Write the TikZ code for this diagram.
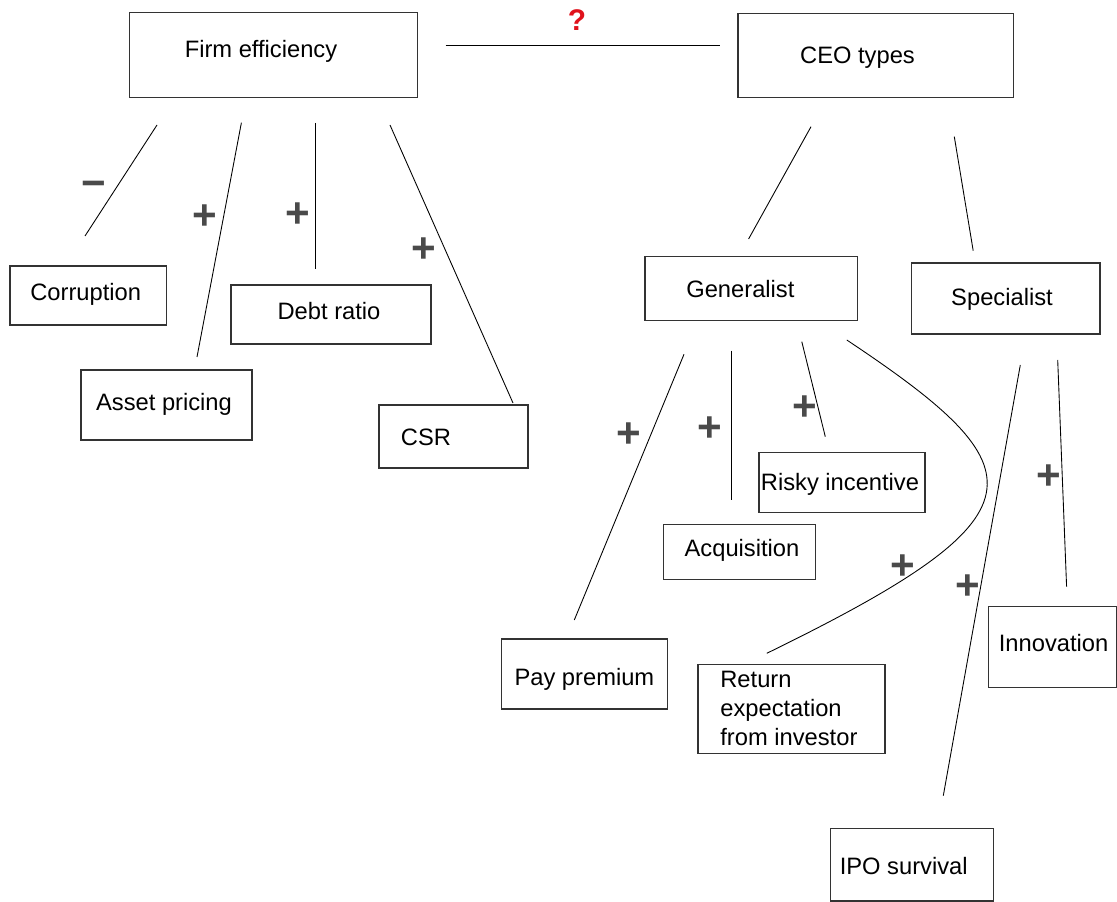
\documentclass[tikz,border=0pt]{standalone}
\usepackage{fontspec}
\setmainfont{Liberation Sans}
\definecolor{boxgray}{HTML}{333333}
\definecolor{signgray}{HTML}{4A4A4A}
\definecolor{qred}{HTML}{E0121C}
\begin{document}
\begin{tikzpicture}[x=0.02cm,y=-0.02cm,
           box/.style={draw=boxgray,line width=0.7pt,inner sep=0pt},
           txt/.style={inner sep=0pt,font=\fontsize{13.5}{16.5}\selectfont},
           sign/.style={inner sep=0pt,text=signgray,font=\fontsize{24}{24}\selectfont\bfseries},
           link/.style={line width=0.5pt}]
           \useasboundingbox (0,0) rectangle (1117,902);

           \node[box,minimum width=5.76cm,minimum height=1.71cm] (firm) at (273.5,55) {};
           \node[box,minimum width=5.51cm,minimum height=1.69cm] (ceo) at (875.8,55.5) {};
           \node[box,minimum width=3.13cm,minimum height=1.18cm] (corruption) at (88.2,295.5) {};
           \node[box,minimum width=4.00cm,minimum height=1.18cm] (debt) at (331,314.5) {};
           \node[box,minimum width=3.42cm,minimum height=1.40cm] (asset) at (166.5,405) {};
           \node[box,minimum width=2.98cm,minimum height=1.26cm] (csr) at (453.5,436.5) {};
           \node[box,minimum width=4.25cm,minimum height=1.27cm] (generalist) at (751.3,288.4) {};
           \node[box,minimum width=3.77cm,minimum height=1.42cm] (specialist) at (1005.7,298.5) {};
           \node[box,minimum width=3.32cm,minimum height=1.20cm] (risky) at (841.9,482.3) {};
           \node[box,minimum width=3.05cm,minimum height=1.10cm] (acquisition) at (739.4,551.8) {};
           \node[box,minimum width=3.32cm,minimum height=1.40cm] (pay) at (584.4,674) {};
           \node[box,minimum width=3.74cm,minimum height=1.78cm] (return) at (791.4,708.8) {};
           \node[box,minimum width=2.56cm,minimum height=1.61cm] (innovation) at (1052.2,647) {};
           \node[box,minimum width=3.27cm,minimum height=1.45cm] (ipo) at (911.9,864.7) {};

           \node[txt] (firm text) at (261,51.7) {Firm efficiency};
           \node[txt] (ceo text) at (857.5,57.3) {CEO types};
           \node[txt] (corruption text) at (85.7,294) {Corruption};
           \node[txt] (debt text) at (329,311) {Debt ratio};
           \node[txt] (asset text) at (164,404) {Asset pricing};
           \node[txt] (csr text) at (426,437) {CSR};
           \node[txt] (generalist text) at (740.4,289.3) {Generalist};
           \node[txt] (specialist text) at (1002,299.3) {Specialist};
           \node[txt] (risky text) at (840,484) {Risky incentive};
           \node[txt] (acquisition text) at (742,550) {Acquisition};
           \node[txt] (pay text) at (584.4,679) {Pay premium};
           \node[txt,anchor=west,align=left] (return text) at (720,708) {Return\\expectation\\from investor};
           \node[txt] (innovation text) at (1053.6,643.3) {Innovation};
           \node[txt] (ipo text) at (903.7,866) {IPO survival};

           \coordinate (q1) at (445.7,45.7);
           \coordinate (q2) at (719.6,45.7);
           \coordinate (c1) at (157,125);
           \coordinate (c2) at (85,236);
           \coordinate (a1) at (241.4,122.7);
           \coordinate (a2) at (197,357);
           \coordinate (d1) at (315.7,123);
           \coordinate (d2) at (315.7,268.7);
           \coordinate (s1) at (390,125);
           \coordinate (s2) at (513,403);
           \coordinate (g1) at (811,126.7);
           \coordinate (g2) at (748.6,239);
           \coordinate (sp1) at (954.3,136.7);
           \coordinate (sp2) at (973.2,250.7);
           \coordinate (p1) at (684,354.3);
           \coordinate (p2) at (574.3,620);
           \coordinate (ac1) at (731.9,350.7);
           \coordinate (ac2) at (731.9,500);
           \coordinate (r1) at (801.8,341.7);
           \coordinate (r2) at (825.3,436.7);
           \coordinate (e1) at (846.8,340);
           \coordinate (e2) at (766.8,653.3);
           \coordinate (i1) at (1020.3,365);
           \coordinate (i2) at (943.3,795.7);
           \coordinate (n1) at (1057.7,360);
           \coordinate (n2) at (1066.6,586.7);

           \draw[link] (q1) -- (q2);
           \draw[link] (c1) -- (c2);
           \draw[link] (a1) -- (a2);
           \draw[link] (d1) -- (d2);
           \draw[link] (s1) -- (s2);
           \draw[link] (g1) -- (g2);
           \draw[link] (sp1) -- (sp2);
           \draw[link] (p1) -- (p2);
           \draw[link] (ac1) -- (ac2);
           \draw[link] (r1) -- (r2);
           \draw[link] (e1) .. controls (1042,470) and (1050,515) .. (e2);
           \draw[link] (i1) -- (i2);
           \draw[link] (n1) -- (n2);

           \node[inner sep=0pt,text=qred,font=\fontsize{17}{17}\selectfont\bfseries] (query) at (577,20) {?};
           \node[sign] (minus corruption) at (93.6,189) {−};
           \node[sign] (plus asset) at (204.6,216.7) {+};
           \node[sign] (plus debt) at (297.5,215) {+};
           \node[sign] (plus csr) at (423.6,250) {+};
           \node[sign] (plus pay) at (628.7,435) {+};
           \node[sign] (plus acquisition) at (710,429) {+};
           \node[sign] (plus risky) at (805,408.3) {+};
           \node[sign] (plus return) at (902.5,567.3) {+};
           \node[sign] (plus ipo) at (967.5,587.3) {+};
           \node[sign] (plus innovation) at (1048.8,476.7) {+};
         \end{tikzpicture}
\end{document}
